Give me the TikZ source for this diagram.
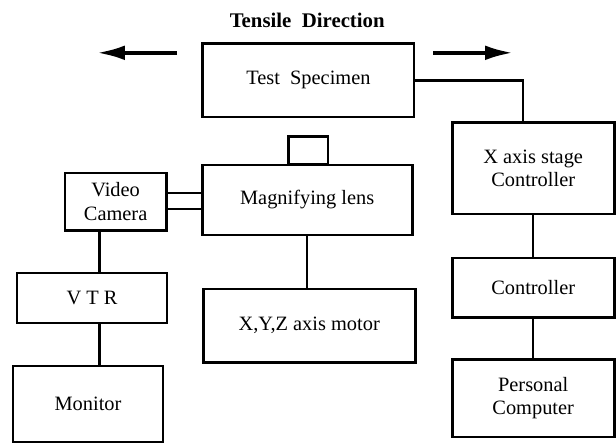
\documentclass[tikz,border=0pt]{standalone}
\usepackage{fontspec}
\setmainfont{Liberation Serif}
\usepackage{tikz}
\usetikzlibrary{arrows.meta,positioning}

\tikzset{
  unit/.style={draw, line width=2.1pt, align=center, inner sep=0pt,
    font=\fontsize{14.5}{16.5}\selectfont},
  wire/.style={line width=1.8pt},
  pull/.style={line width=2.8pt, -{Latex[length=20pt,width=10.5pt]}}
}

\begin{document}
\begin{tikzpicture}
\useasboundingbox (0,0) rectangle (15.4,11.1);

\node[font=\fontsize{14.8}{16.5}\selectfont\bfseries] (title) at (7.68,10.6) {Tensile\ \ Direction};

\node[unit, minimum width=5.28cm, minimum height=1.83cm] (spec) at (7.71,9.09) {Test\ \ Specimen};
\node[unit, minimum width=0.98cm, minimum height=0.7cm] (cap) at (7.71,7.33) {};
\node[unit, minimum width=5.25cm, minimum height=1.75cm] (lens) at (7.68,6.1) {Magnifying lens};
\node[unit, minimum width=2.53cm, minimum height=1.43cm] (cam) at (2.89,6.06) {Video\\Camera};
\node[unit, minimum width=3.75cm, minimum height=1.25cm] (vtr) at (2.3,3.65) {V T R};
\node[unit, minimum width=3.75cm, minimum height=1.9cm] (mon) at (2.2,1.0) {Monitor};
\node[unit, minimum width=5.3cm, minimum height=1.83cm] (motor) at (7.73,2.96) {X,Y,Z axis motor};

\node[unit, minimum width=4.05cm, minimum height=2.28cm] (xstage) at (13.33,6.89) {X axis stage\\Controller};
\node[unit, minimum width=4.05cm, minimum height=1.48cm] (ctrl) at (13.33,3.91) {Controller};
\node[unit, minimum width=4.05cm, minimum height=1.93cm] (pc) at (13.33,1.14) {Personal\\Computer};

% tensile arrows
\coordinate (lfrom) at (4.43,9.78);
\coordinate (lto) at (2.42,9.78);
\coordinate (rfrom) at (10.83,9.78);
\coordinate (rto) at (12.83,9.78);
\draw[pull] (lfrom) -- (lto);
\draw[pull] (rfrom) -- (rto);

% connections
\draw[wire] (spec.east) -| ([xshift=-0.25cm]xstage.north);
\draw[wire] (xstage) -- (ctrl);
\draw[wire] (ctrl) -- (pc);
\draw[wire] (lens.south) -- (lens.south |- motor.north);
\draw[wire] ([yshift=0.22cm]cam.east) -- ([yshift=0.22cm]cam.east -| lens.west);
\draw[wire] ([yshift=-0.18cm]cam.east) -- ([yshift=-0.18cm]cam.east -| lens.west);
\draw[wire] ([xshift=-0.4cm]cam.south) -- ([xshift=-0.4cm]cam.south |- vtr.north);
\draw[wire] ([xshift=-0.4cm]cam.south |- vtr.south) -- ([xshift=-0.4cm]cam.south |- mon.north);
\end{tikzpicture}
\end{document}
